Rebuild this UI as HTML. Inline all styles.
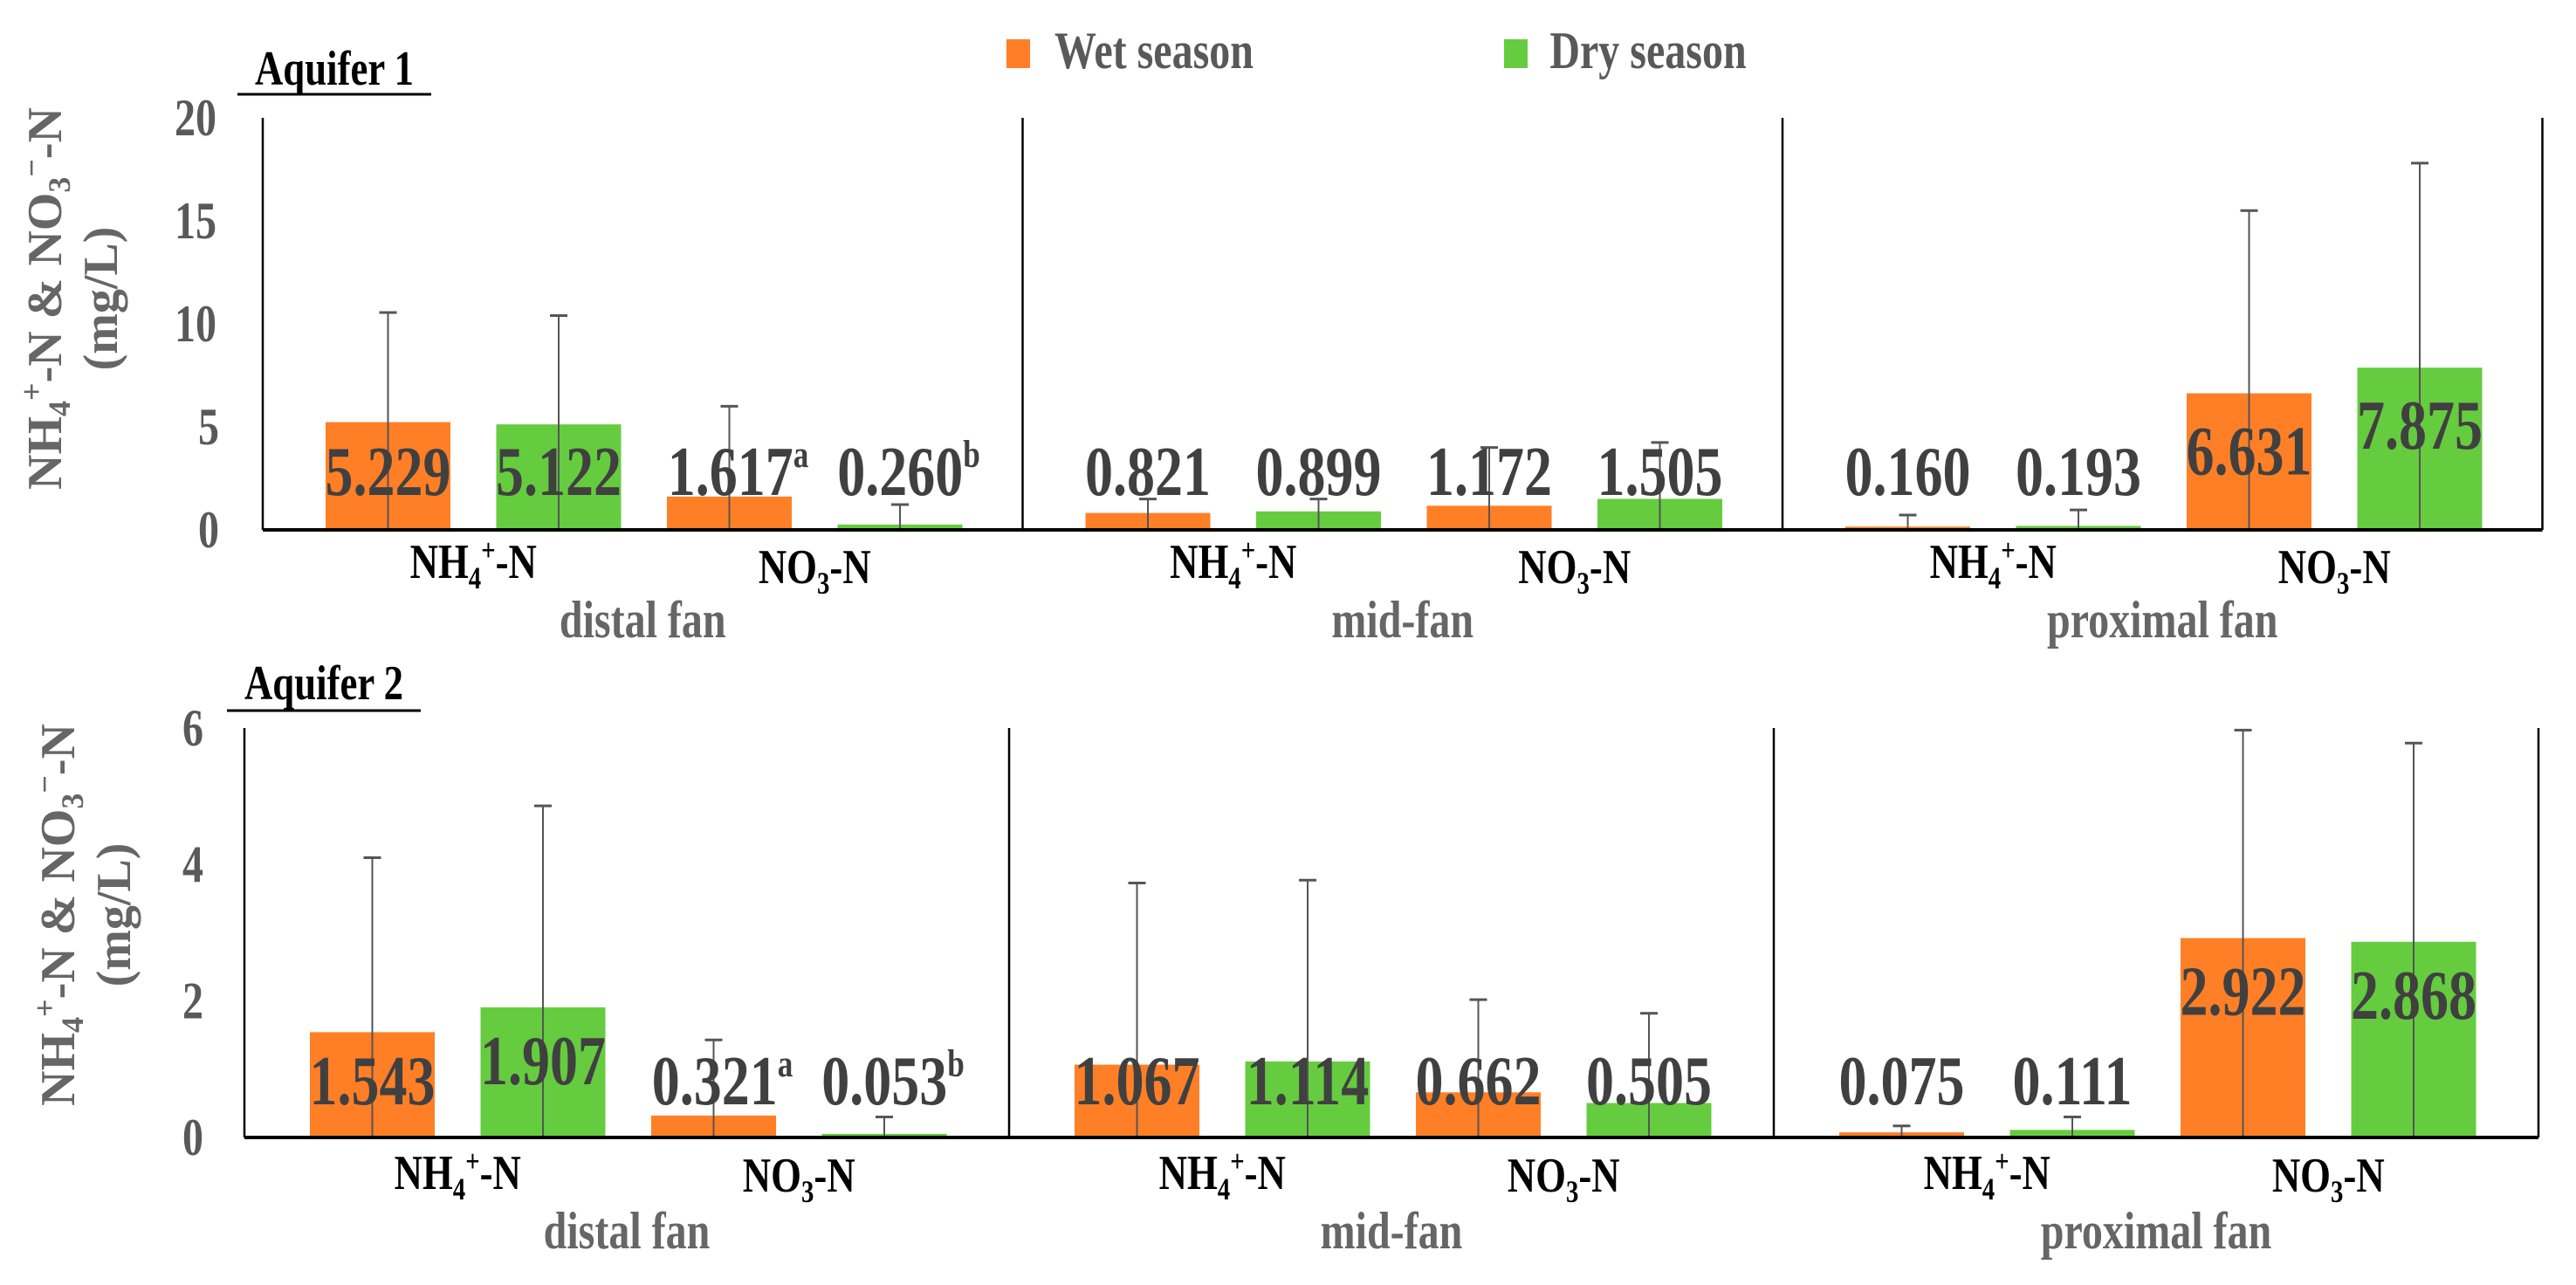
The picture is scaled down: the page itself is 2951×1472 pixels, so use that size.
<!DOCTYPE html>
<html><head><meta charset="utf-8"><style>
html,body{margin:0;padding:0;background:#fff;}
svg{display:block;}
text{font-family:"Liberation Serif",serif;font-weight:bold;}
.sx{transform-box:fill-box;transform-origin:center;transform:scaleX(0.8);}
</style></head><body>
<svg id="chart" width="2951" height="1472" viewBox="0 0 2951 1472" xmlns="http://www.w3.org/2000/svg">
<g id="legend">
  <rect x="1153" y="45" width="27" height="33" fill="#FF7F27"/>
  <text class="sx" x="1322" y="78" text-anchor="middle" font-size="60" fill="#595959">Wet season</text>
  <rect x="1723" y="45" width="27" height="33" fill="#66CC3F"/>
  <text class="sx" x="1888" y="78" text-anchor="middle" font-size="60" fill="#595959">Dry season</text>
</g>
</svg>
<script>
// Aquifer 1
const categories = ["distal fan","mid-fan","proximal fan"];
const species = ["NH4","NO3"];
const a1Wet = [5.229,1.617,0.821,1.172,0.160,6.631];
const a1Dry = [5.122,0.260,0.899,1.505,0.193,7.875];
const a1WetErr = [10.55,6.0,1.5,4.0,0.72,15.5];
const a1DryErr = [10.4,1.23,1.5,4.24,0.97,17.8];
const a1Ticks = [0,5,10,15,20];
const a1Sup = ["", "a", "", "", "", ""];
const a1SupDry = ["", "b", "", "", "", ""];
// Aquifer 2
const a2Wet = [1.543,0.321,1.067,0.662,0.075,2.922];
const a2Dry = [1.907,0.053,1.114,0.505,0.111,2.868];
const a2WetErr = [4.1,1.43,3.73,2.02,0.17,5.97];
const a2DryErr = [4.86,0.3,3.77,1.82,0.30,5.78];
const a2Ticks = [0,2,4,6];

const NS="http://www.w3.org/2000/svg";
const svg=document.getElementById('chart');
function mk(tag,attrs,parent){const e=document.createElementNS(NS,tag);for(const k in attrs)e.setAttribute(k,attrs[k]);(parent||svg).appendChild(e);return e;}

function panel(cfg){
  const g=mk('g',{});
  
  
  const y=v=>cfg.y0-(v/cfg.max)*(cfg.y0-cfg.yTop);
  const t=mk('text',{x:cfg.titleX,y:cfg.titleY,'font-size':56,fill:'#000','text-anchor':'middle',class:'sx'},g);
  t.textContent=cfg.title;
  
  
  const ul=mk('line',{x1:cfg.titleX-111,x2:cfg.titleX+111,y1:cfg.ulY,y2:cfg.ulY,stroke:'#000','stroke-width':3},g);
  
  
  const yt=mk('text',{transform:`translate(${cfg.ytX},${cfg.ytY}) rotate(-90)`,'text-anchor':'middle','font-size':56,fill:'#666'},g);
  yt.innerHTML='<tspan x="0" dy="0">NH</tspan><tspan font-size="36" dy="10">4</tspan><tspan font-size="36" dy="-32">+</tspan><tspan dy="22">-N &amp; NO</tspan><tspan font-size="36" dy="10">3</tspan><tspan font-size="36" dy="-32">−</tspan><tspan dy="22">-N</tspan><tspan x="0" dy="64">(mg/L)</tspan>';
  
  
  cfg.ticks.forEach(v=>{
    const tt=mk('text',{x:cfg.tickX,y:y(v)+20,'text-anchor':'end','font-size':60,fill:'#595959',class:'sx'},g);
    tt.textContent=String(v);
    
    
  });
  for(let gi=0;gi<3;gi++){
    const gx=cfg.ax+gi*cfg.gw;
    const vl=mk('line',{x1:gx,x2:gx,y1:cfg.yTop,y2:cfg.y0,stroke:'#000','stroke-width':2.5},g);
    
    
    for(let si=0;si<2;si++){
      const idx=gi*2+si;
      const pairs=[[cfg.wet[idx],cfg.wetErr[idx],'#FF7F27',cfg.supW[idx]||''],[cfg.dry[idx],cfg.dryErr[idx],'#66CC3F',cfg.supD[idx]||'']];
      pairs.forEach((p,k)=>{
        const bx=gx+cfg.off+(si*2+k)*cfg.sp;
        const top=y(p[0]);
        const r=mk('rect',{x:bx,y:top,width:cfg.bw,height:cfg.y0-top,fill:p[2]},g);
        
        
        const cx=bx+cfg.bw/2;
        const el=mk('line',{x1:cx,x2:cx,y1:y(p[1]),y2:cfg.y0,stroke:'#555','stroke-width':2},g);
        
        
        const ec=mk('line',{x1:cx-10,x2:cx+10,y1:y(p[1]),y2:y(p[1]),stroke:'#555','stroke-width':3},g);
        
        
        const ly=Math.min(cfg.labMax,top+cfg.labOff);
        const lt=mk('text',{x:cx+(p[3]?10:0),y:ly+27,'text-anchor':'middle','font-size':80,fill:'#404040',class:'sx'},g);
        lt.innerHTML=p[0].toFixed(3)+(p[3]?'<tspan font-size="44" dy="-32">'+p[3]+'</tspan>':'');
        
        
      });
      const c1=gx+cfg.off+si*2*cfg.sp+cfg.bw/2, c2=c1+cfg.sp;
      const cl=mk('text',{x:(c1+c2)/2,y:(si===0?cfg.nhY:cfg.noY),'text-anchor':'middle','font-size':56,fill:'#000',class:'sx'},g);
      cl.innerHTML= si===0 ? 'NH<tspan font-size="36" dy="12">4</tspan><tspan font-size="36" dy="-32">+</tspan><tspan dy="20">-N</tspan>' : 'NO<tspan font-size="36" dy="12">3</tspan><tspan dy="-12">-N</tspan>';
      
      
    }
    const fl=mk('text',{x:gx+cfg.gw/2,y:cfg.fanY,'text-anchor':'middle','font-size':60,fill:'#666',class:'sx'},g);
    fl.textContent=categories[gi];
    
    
  }
  const rl=mk('line',{x1:cfg.ax+3*cfg.gw,x2:cfg.ax+3*cfg.gw,y1:cfg.yTop,y2:cfg.y0,stroke:'#000','stroke-width':2.5},g);
  
  
  const bl=mk('line',{x1:cfg.ax,x2:cfg.ax+3*cfg.gw,y1:cfg.y0,y2:cfg.y0,stroke:'#000','stroke-width':4},g);
  
  
}

panel({name:'aquifer-1-panel',title:'Aquifer 1',titleX:383,titleY:97,ulY:108,ytX:70,ytY:342,tickX:254,
  ax:301,gw:870.5,off:72,sp:195.5,bw:143,y0:607,yTop:135,max:20,ticks:a1Ticks,
  wet:a1Wet,dry:a1Dry,wetErr:a1WetErr,dryErr:a1DryErr,supW:a1Sup,supD:a1SupDry,
  labMax:540,labOff:66,nhY:662,noY:668,fanY:730});
panel({name:'aquifer-2-panel',title:'Aquifer 2',titleX:371,titleY:801,ulY:814,ytX:85,ytY:1048,tickX:236,
  ax:280,gw:876,off:75,sp:195.5,bw:143,y0:1303,yTop:834,max:6,ticks:a2Ticks,
  wet:a2Wet,dry:a2Dry,wetErr:a2WetErr,dryErr:a2DryErr,supW:a1Sup,supD:a1SupDry,
  labMax:1238,labOff:61,nhY:1362,noY:1365,fanY:1430});
</script>
</body></html>
